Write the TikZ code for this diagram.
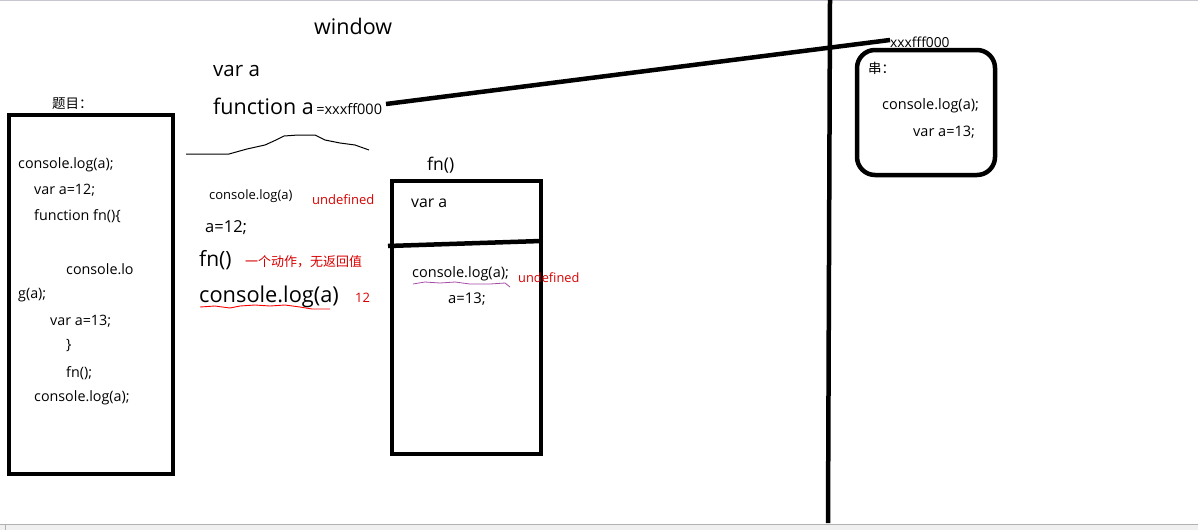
\documentclass[tikz,border=0pt]{standalone}
\usepackage{fontspec}
\setmainfont{Open Sans}
\newfontfamily\cjk{Noto Sans CJK SC}
\begin{document}
\begin{tikzpicture}[x=1pt,y=-1pt,
  t/.style={anchor=west,inner sep=0pt,text=black,yshift=-2pt},
  rt/.style={anchor=west,inner sep=0pt,text=red!85!black,yshift=-1.5pt},
  thick5/.style={line width=4.5pt},
  fs/.style={font=\fontsize{#1}{#1}\selectfont}]
\useasboundingbox (0,0) rectangle (1198,530);
\fill[white] (0,0) rectangle (1198,530);
\draw[line width=1pt,color=blue!10!gray!40] (0,0.5) -- (1198,0.5);
% scrollbar
\fill[gray!12] (0,524) rectangle (1198,530);
\draw[gray!60,line width=0.8pt] (0,524) -- (1198,524);
\draw[gray!60,line width=0.8pt] (5,524) -- (5,530);

% window label and globals
\node[t,fs=21.5] (win) at (314,24) {window};
\node[t,fs=20.5] (vara) at (213,69) {var a};
\node[t,fs=21.5] (funa) at (213,104) {function a};
\node[t,fs=14.5,anchor=base west,yshift=2pt] (addr1) at ([xshift=2pt]funa.base east) {=xxxff000};
\coordinate (addrEnd) at (386,104);
\node[t,fs=13.8] (addr2) at (890,40) {xxxfff000};
\draw[line width=4.5pt] (addrEnd) -- ([yshift=2pt]addr2.west);

% thin squiggle
\coordinate (sq0) at (186,154);
\coordinate (sq1) at (369,150);
\draw[line width=1pt] (sq0) -- (229,154) -- (247,149) -- (265,145) -- (276,140) -- (284,136) -- (298,135) -- (315,135) -- (325,140) -- (340,143) -- (355,145) -- (sq1);

% question box
\node[t,font=\cjk\fontsize{13.5}{13.5}\selectfont] (q) at (52,102) {题目：};
\draw[thick5] (9,115) rectangle (173,474);
\node[t,fs=14.3] (c1) at (18,163) {console.log(a);};
\node[t,fs=14.3] (c2) at (34,188) {var a=12;};
\node[t,fs=14.3] (c3) at (34,214) {function fn()\{};
\node[t,fs=14.3] (c4) at (66,267) {console.lo};
\node[t,fs=14.3] (c5) at (18,293) {g(a);};
\node[t,fs=14.3] (c6) at (50,319) {var a=13;};
\node[t,fs=14.3] (c7) at (66,344) {\}};
\node[t,fs=14.3] (c8) at (66,371) {fn();};
\node[t,fs=14.3] (c9) at (34,396) {console.log(a);};

% middle column
\node[t,fs=13] (m1) at (209,194) {console.log(a)};
\node[rt,fs=13] (u1) at (312,198) {undefined};
\node[t,fs=16.5] (m2) at (205,226) {a=12;};
\node[t,fs=21] (m3) at (199,258) {fn()};
\node[rt,font=\cjk\fontsize{13}{13}\selectfont] (n1) at (245,260) {一个动作，无返回值};
\node[t,fs=21.8] (m4) at (199,295) {console.log(a)};
\node[rt,fs=13] (n2) at (355,296) {12};
\draw[red,line width=0.9pt] (200,307) -- (215,306) -- (230,308) -- (240,306) -- (255,305) -- (270,306) -- (285,305) -- (300,307) -- (312,309) -- (330,309);

% fn() box
\node[t,fs=17.5] (fnl) at (427,163) {fn()};
\draw[thick5] (392,181) rectangle (541,454);
\coordinate (dv0) at (388,246);
\coordinate (dv1) at (541,241);
\draw[thick5] (dv0) -- (dv1);
\node[t,fs=15.8] (fva) at (411,201) {var a};
\node[t,fs=14.5] (fc1) at (412,272) {console.log(a);};
\node[rt,fs=12.8] (u2) at (518,276) {undefined};
\node[t,fs=14.8] (fc2) at (448,297) {a=13;};
\draw[violet!70,line width=0.8pt] (413,284) -- (425,282) -- (440,283) -- (455,282) -- (470,284) -- (490,284) -- (505,283) -- (510,287);

% vertical divider
\coordinate (vt) at (830,0);
\coordinate (vb) at (828,523);
\draw[thick5] (vt) -- (vb);

% heap box
\draw[line width=4.5pt,rounded corners=18pt] (857,50) rectangle (995,175);
\node[t,font=\cjk\fontsize{13.5}{13.5}\selectfont] (h0) at (868,66) {串：};
\node[t,fs=14.5] (h1) at (882,104) {console.log(a);};
\node[t,fs=14.5] (h2) at (913,130) {var a=13;};
\end{tikzpicture}
\end{document}
